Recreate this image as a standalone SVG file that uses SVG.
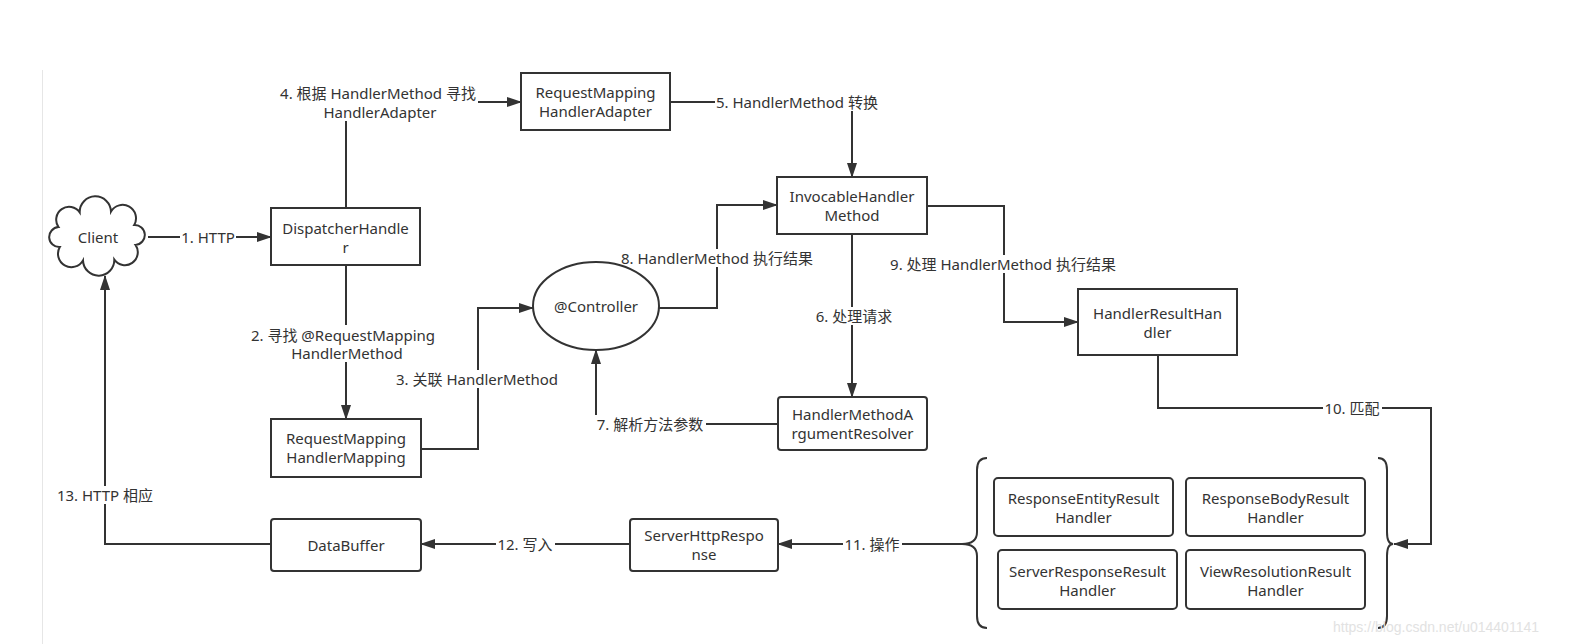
<svg xmlns="http://www.w3.org/2000/svg" width="1574" height="644" viewBox="0 0 1574 644">
<style>
.box{fill:#fff;stroke:#333;stroke-width:2}
.t{font-family:"Noto Sans","Noto Sans CJK SC",sans-serif;font-size:15px;fill:#333;text-anchor:middle;dominant-baseline:central}
.c{fill:none;stroke:#333;stroke-width:2;marker-end:url(#arr)}
.ln{fill:none;stroke:#333;stroke-width:2}
.bg{fill:#fff}
.wm{font-family:"Liberation Sans",sans-serif;font-size:14px;fill:#e2e2e2}
</style>
<defs>
<marker id="arr" viewBox="0 0 15 10" refX="14" refY="5" markerWidth="15" markerHeight="10" orient="auto" markerUnits="userSpaceOnUse">
<path d="M0,0 L15,5 L0,10 z" fill="#333"/>
</marker>
</defs>
<rect x="0" y="0" width="1574" height="644" fill="#fff"/>
<line x1="42.5" y1="70" x2="42.5" y2="644" stroke="#e6e6e6" stroke-width="1"/>

<g id="connectors">
<path class="c" d="M148,237 L271,237"/>
<path class="c" d="M346,265 L346,419"/>
<path class="c" d="M421,449 L478,449 L478,308 L533,308"/>
<path class="c" d="M346,208 L346,102 L521,102"/>
<path class="c" d="M670,102 L852,102 L852,177"/>
<path class="c" d="M852,234 L852,397"/>
<path class="c" d="M778,424 L596,424 L596,350"/>
<path class="c" d="M659,308 L717,308 L717,205 L777,205"/>
<path class="c" d="M927,206 L1004,206 L1004,322 L1078,322"/>
<path class="c" d="M1158,355 L1158,408 L1431,408 L1431,544 L1394,544"/>
<path class="c" d="M962,544 L778,544"/>
<path class="c" d="M630,544 L421,544"/>
<path class="c" d="M271,544 L105,544 L105,276"/>

<rect class="bg" x="180" y="228" width="56" height="18"/>
<text class="t" x="208" y="237">1. HTTP</text>
<rect class="bg" x="250" y="325" width="188" height="37"/>
<text class="t" x="343" y="335">2. 寻找 @RequestMapping</text>
<text class="t" x="347" y="353">HandlerMethod</text>
<rect class="bg" x="396" y="370" width="162" height="18"/>
<text class="t" x="477" y="379">3. 关联 HandlerMethod</text>
<rect class="bg" x="278" y="83" width="200" height="38"/>
<text class="t" x="378" y="93">4. 根据 HandlerMethod 寻找</text>
<text class="t" x="380" y="112">HandlerAdapter</text>
<rect class="bg" x="715" y="93" width="165" height="18"/>
<text class="t" x="797" y="102">5. HandlerMethod 转换</text>
<rect class="bg" x="814" y="307" width="80" height="18"/>
<text class="t" x="854" y="316">6. 处理请求</text>
<rect class="bg" x="595" y="415" width="111" height="18"/>
<text class="t" x="650" y="424">7. 解析方法参数</text>
<rect class="bg" x="620" y="249" width="195" height="18"/>
<text class="t" x="717" y="258">8. HandlerMethod 执行结果</text>
<rect class="bg" x="888" y="255" width="230" height="18"/>
<text class="t" x="1003" y="264">9. 处理 HandlerMethod 执行结果</text>
<rect class="bg" x="1323" y="399" width="59" height="18"/>
<text class="t" x="1352" y="408">10. 匹配</text>
<rect class="bg" x="843" y="535" width="59" height="18"/>
<text class="t" x="872" y="544">11. 操作</text>
<rect class="bg" x="496" y="535" width="59" height="18"/>
<text class="t" x="525" y="544">12. 写入</text>
<rect class="bg" x="56" y="486" width="100" height="18"/>
<text class="t" x="105" y="495">13. HTTP 相应</text>
</g>

<g id="client">
<path class="box" d="M58.5,227.1 A1,1 0 0 1 79.7,212.4 A1,1 0 0 1 111,211.6 A1,1 0 0 1 134.2,225 A1,1 0 0 1 135.5,244.9 A1,1 0 0 1 114.3,259.6 A1,1 0 0 1 83,260.4 A1,1 0 0 1 59.8,247 A1,1 0 0 1 58.5,227.1 Z"/>
<text class="t" x="98" y="237">Client</text>
</g>

<g id="dispatcher-handler">
<rect class="box" x="271" y="208" width="149" height="57"/>
<text class="t" x="345.5" y="228">DispatcherHandle</text>
<text class="t" x="345.5" y="247">r</text>
</g>

<g id="request-mapping-handler-adapter">
<rect class="box" x="521" y="73" width="149" height="57"/>
<text class="t" x="595.5" y="92">RequestMapping</text>
<text class="t" x="595.5" y="111">HandlerAdapter</text>
</g>

<g id="invocable-handler-method">
<rect class="box" x="777" y="177" width="150" height="57"/>
<text class="t" x="852" y="196">InvocableHandler</text>
<text class="t" x="852" y="215">Method</text>
</g>

<g id="controller">
<ellipse class="box" cx="596" cy="306" rx="63" ry="44"/>
<text class="t" x="596" y="306">@Controller</text>
</g>

<g id="handler-result-handler">
<rect class="box" x="1078" y="289" width="159" height="66"/>
<text class="t" x="1157.5" y="313">HandlerResultHan</text>
<text class="t" x="1157.5" y="332">dler</text>
</g>

<g id="handler-method-argument-resolver">
<rect class="box" x="778" y="397" width="149" height="53" rx="3"/>
<text class="t" x="852.5" y="414">HandlerMethodA</text>
<text class="t" x="852.5" y="433">rgumentResolver</text>
</g>

<g id="request-mapping-handler-mapping">
<rect class="box" x="271" y="419" width="150" height="58"/>
<text class="t" x="346" y="438">RequestMapping</text>
<text class="t" x="346" y="457">HandlerMapping</text>
</g>

<g id="data-buffer">
<rect class="box" x="271" y="519" width="150" height="52" rx="3"/>
<text class="t" x="346" y="545">DataBuffer</text>
</g>

<g id="server-http-response">
<rect class="box" x="630" y="519" width="148" height="52" rx="3"/>
<text class="t" x="704" y="535">ServerHttpRespo</text>
<text class="t" x="704" y="554">nse</text>
</g>

<g id="result-handlers">
<path class="ln" d="M987,458 Q977,458 977,470 L977,532 Q977,544 962,544 Q977,544 977,556 L977,616 Q977,628 987,628"/>
<path class="ln" d="M1378,458 Q1387,458 1387,470 L1387,532 Q1387,544 1393,544 Q1387,544 1387,556 L1387,616 Q1387,628 1378,628"/>
<g id="response-entity-result-handler">
<rect class="box" x="994" y="478" width="179" height="58" rx="4"/>
<text class="t" x="1083.5" y="498">ResponseEntityResult</text>
<text class="t" x="1083.5" y="517">Handler</text>
</g>
<g id="response-body-result-handler">
<rect class="box" x="1186" y="478" width="179" height="58" rx="4"/>
<text class="t" x="1275.5" y="498">ResponseBodyResult</text>
<text class="t" x="1275.5" y="517">Handler</text>
</g>
<g id="server-response-result-handler">
<rect class="box" x="998" y="550" width="179" height="59" rx="4"/>
<text class="t" x="1087.5" y="571">ServerResponseResult</text>
<text class="t" x="1087.5" y="590">Handler</text>
</g>
<g id="view-resolution-result-handler">
<rect class="box" x="1186" y="550" width="179" height="59" rx="4"/>
<text class="t" x="1275.5" y="571">ViewResolutionResult</text>
<text class="t" x="1275.5" y="590">Handler</text>
</g>
</g>

<text class="wm" x="1333" y="632">https://blog.csdn.net/u014401141</text>
</svg>
